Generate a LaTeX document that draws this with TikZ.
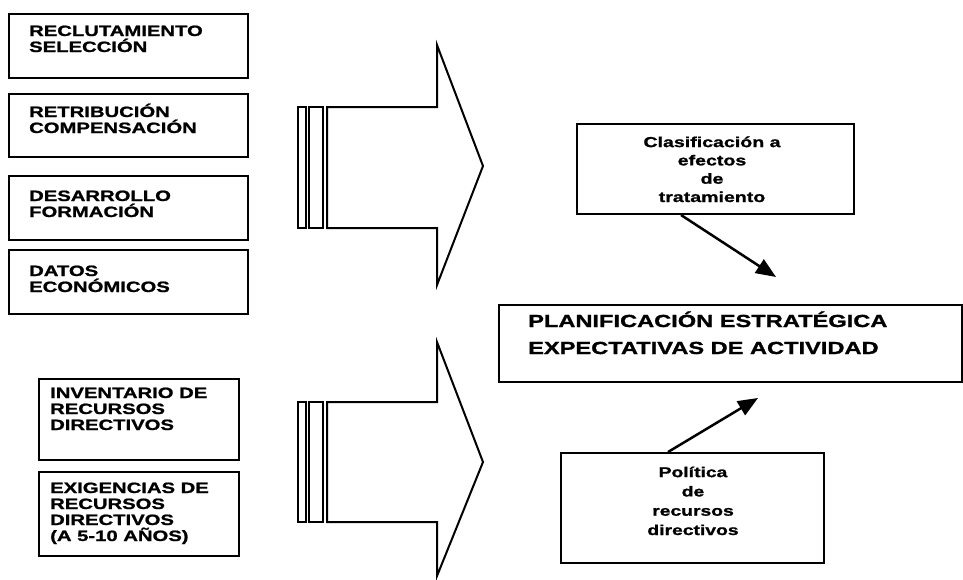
\documentclass[tikz,border=0pt]{standalone}
\usepackage{fontspec}
\newfontfamily\stf{Liberation Sans}[FakeStretch=1.35,BoldFeatures={FakeBold=1.2}]
\usetikzlibrary{arrows.meta}
\tikzset{
  box/.style={draw=black, line width=2pt, rectangle, inner sep=0pt, anchor=north west},
  lt/.style={inner sep=0pt, align=left, anchor=base west, font=\stf\bfseries\fontsize{15}{16}\selectfont},
  bigt/.style={inner sep=0pt, align=left, anchor=base west, font=\stf\bfseries\fontsize{17.5}{27}\selectfont},
  ct/.style={inner sep=0pt, align=center, anchor=base, font=\stf\bfseries\fontsize{14.5}{18.3}\selectfont},
  pt/.style={inner sep=0pt, align=center, anchor=base, font=\stf\bfseries\fontsize{14.3}{19.3}\selectfont},
  bigarrow/.style={draw=black, line width=2pt, line join=miter},
  conn/.style={draw=black, line width=2.5pt, -{Triangle[length=20pt,width=16pt]}}
}
\begin{document}
\begin{tikzpicture}[x=1pt,y=-1pt]
\useasboundingbox (0,0) rectangle (963,579);
% left boxes
\node[box, minimum width=239pt, minimum height=64pt] (b1) at (8,13) {};
\node[lt] (t1) at (29,52) {RECLUTAMIENTO\\SELECCIÓN};
\node[box, minimum width=239pt, minimum height=63pt] (b2) at (8,93) {};
\node[lt] (t2) at (29,133) {RETRIBUCIÓN\\COMPENSACIÓN};
\node[box, minimum width=239pt, minimum height=64pt] (b3) at (8,175) {};
\node[lt] (t3) at (29,217) {DESARROLLO\\FORMACIÓN};
\node[box, minimum width=239pt, minimum height=64pt] (b4) at (8,249) {};
\node[lt] (t4) at (29,292) {DATOS\\ECONÓMICOS};
\node[box, minimum width=200pt, minimum height=81pt] (b5) at (38,378) {};
\node[lt] (t5) at (50,430) {INVENTARIO DE\\RECURSOS\\DIRECTIVOS};
\node[box, minimum width=200pt, minimum height=84pt] (b6) at (38,471) {};
\node[lt] (t6) at (50,541) {EXIGENCIAS DE\\RECURSOS\\DIRECTIVOS\\(A 5-10 AÑOS)};
% big arrows
\draw[bigarrow] (298,107) rectangle (306,228);
\draw[bigarrow] (309,107) rectangle (323,228);
\draw[bigarrow] (327,107) -- (437,107) -- (437,45) -- (483,166) -- (437,285) -- (437,228) -- (327,228) -- cycle;
\draw[bigarrow] (298,402) rectangle (306,522);
\draw[bigarrow] (309,402) rectangle (323,522);
\draw[bigarrow] (327,402) -- (437,402) -- (437,342) -- (483,462) -- (437,576) -- (437,522) -- (327,522) -- cycle;
% right side
\node[box, minimum width=277pt, minimum height=90pt] (clas) at (576,123) {};
\node[ct] (clast) at (712,202) {Clasificación a\\efectos\\de\\tratamiento};
\node[box, minimum width=463pt, minimum height=77pt] (plan) at (498,304) {};
\node[bigt] (plant) at (528,354) {PLANIFICACIÓN ESTRATÉGICA\\EXPECTATIVAS DE ACTIVIDAD};
\node[box, minimum width=263pt, minimum height=110pt] (pol) at (560,452) {};
\node[pt] (polt) at (693,535) {Política\\de\\recursos\\directivos};
\coordinate (tip1) at (776,277);
\coordinate (tip2) at (758,398);
\draw[conn] ([xshift=-34.5pt]clas.south) -- (tip1);
\draw[conn] ([xshift=-24.5pt]pol.north) -- (tip2);
\end{tikzpicture}
\end{document}
